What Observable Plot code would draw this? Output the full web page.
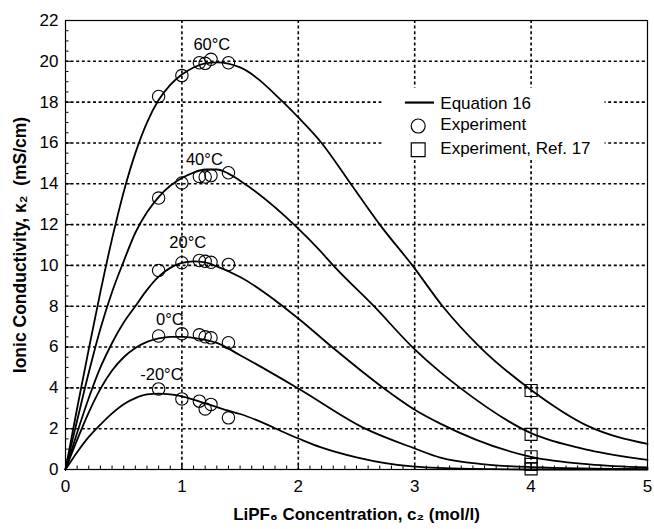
<!DOCTYPE html>
<html>
<head>
<meta charset="utf-8">
<script src="https://cdn.jsdelivr.net/npm/d3@7"></script>
<script src="https://cdn.jsdelivr.net/npm/@observablehq/plot@0.6"></script>
<style>
  body { margin: 0; background: #fff; }
  #chart svg { display: block; }
</style>
</head>
<body>
<div id="chart"></div>
<script>
// ---- Data ----
const temps = ["60°C", "40°C", "20°C", "0°C", "-20°C"];

// Equation 16 model curves: concentration (mol/l) and conductivity (mS/cm)
const curveC60 = [0, 0.1, 0.2, 0.3, 0.4, 0.5, 0.6, 0.7, 0.8, 0.9, 1.0, 1.1, 1.2, 1.3, 1.5, 1.87, 2.0, 2.2, 2.45, 2.7, 2.98, 3.24, 3.56, 4.0, 4.5, 5.0];
const curveK60 = [0, 3.0, 5.9, 8.7, 11.3, 13.6, 15.5, 17.0, 18.1, 18.85, 19.35, 19.7, 19.9, 19.95, 19.7, 18.0, 17.25, 16, 14, 12, 10, 8, 6, 3.9, 2.1, 1.25];

const curveC40 = [0, 0.1, 0.2, 0.3, 0.4, 0.5, 0.6, 0.7, 0.8, 0.9, 1.0, 1.1, 1.2, 1.3, 1.4, 1.5, 2.0, 2.19, 2.3, 2.65, 2.98, 3.22, 3.39, 4.0, 4.5, 5.0];
const curveK40 = [0, 2.4, 4.75, 6.9, 8.7, 10.2, 11.6, 12.6, 13.35, 13.9, 14.28, 14.55, 14.7, 14.7, 14.5, 14.15, 11.8, 10.7, 10, 8, 6, 4.77, 4, 1.78, 0.95, 0.47];

const curveC20 = [0, 0.1, 0.2, 0.3, 0.4, 0.5, 0.6, 0.7, 0.8, 0.9, 1.0, 1.1, 1.2, 1.3, 1.5, 2.0, 2.29, 2.73, 3.0, 3.22, 4.0, 4.5, 5.0];
const curveK20 = [0, 1.8, 3.5, 5.0, 6.2, 7.2, 8.0, 8.8, 9.45, 9.88, 10.12, 10.2, 10.15, 9.95, 9.43, 7.4, 6, 4, 2.93, 2.25, 0.62, 0.25, 0.1];

const curveC0 = [0, 0.1, 0.2, 0.3, 0.4, 0.5, 0.6, 0.7, 0.8, 0.9, 1.0, 1.1, 1.2, 1.3, 1.5, 2.0, 2.575, 3.0, 3.22, 3.6, 4.0, 5.0];
const curveK0 = [0, 1.45, 2.8, 3.95, 4.85, 5.5, 5.95, 6.25, 6.42, 6.5, 6.5, 6.45, 6.35, 6.2, 5.6, 3.97, 2, 1.03, 0.58, 0.25, 0.12, 0.02];

const curveCm20 = [0, 0.1, 0.2, 0.3, 0.4, 0.5, 0.6, 0.7, 0.8, 0.9, 1.0, 1.1, 1.2, 1.3, 1.4, 1.5, 2.0, 2.19, 2.5, 3.0, 3.5, 4.0, 5.0];
const curveKm20 = [0, 0.85, 1.6, 2.2, 2.75, 3.2, 3.5, 3.68, 3.72, 3.68, 3.58, 3.42, 3.24, 3.06, 2.88, 2.72, 1.52, 1.1, 0.6, 0.14, 0.03, 0.0, 0.0];

// Experiment (circles)
const expC = [0.8, 1.0, 1.15, 1.2, 1.25, 1.4];
const exp60 = [18.28, 19.3, 19.93, 19.9, 20.1, 19.93];
const exp40 = [13.3, 14.04, 14.36, 14.33, 14.4, 14.54];
const exp20 = [9.75, 10.13, 10.24, 10.2, 10.15, 10.05];
const exp0 = [6.54, 6.65, 6.6, 6.5, 6.45, 6.21];
const expm20 = [3.95, 3.46, 3.35, 2.97, 3.19, 2.53];

// Experiment, Ref. 17 (squares)
const refC = [4, 4, 4, 4, 4];
const refK = [3.87, 1.72, 0.62, 0.25, 0.03];

// Temperature annotation anchors (data coordinates)
const labelC = [1.257, 1.193, 1.05, 0.897, 0.824];
const labelK = [20.83, 15.2, 11.13, 7.35, 4.66];

// Axis ticks
const xTicks = [0, 1, 2, 3, 4, 5];
const yTicks = [0, 2, 4, 6, 8, 10, 12, 14, 16, 18, 20, 22];
const xGrid = [1, 2, 3, 4];
const yGrid = [2, 4, 6, 8, 10, 12, 14, 16, 18, 20];
const xMinor = d3.range(0, 50).map(i => i / 10);
const yMinor = d3.range(0, 44).map(i => i / 2);

const legendLabels = ["Equation 16", "Experiment", "Experiment, Ref. 17"];

// ---- Build tables ----
const curveSets = [
  [temps[0], curveC60, curveK60],
  [temps[1], curveC40, curveK40],
  [temps[2], curveC20, curveK20],
  [temps[3], curveC0, curveK0],
  [temps[4], curveCm20, curveKm20]
];
const curves = curveSets.flatMap(([t, cs, ks]) => cs.map((c, i) => ({t, c, k: ks[i]})));
const expSets = [exp60, exp40, exp20, exp0, expm20];
const experiments = expSets.flatMap((ks, j) => ks.map((k, i) => ({t: temps[j], c: expC[i], k})));
const refs = refC.map((c, i) => ({c, k: refK[i]}));
const labels = temps.map((t, i) => ({t, c: labelC[i], k: labelK[i]}));

const W = 654, H = 529;
const mL = 65, mR = 7, mT = 20, mB = 60;
const pw = W - mL - mR, ph = H - mT - mB;
const font = "'Liberation Sans', Arial, Helvetica, sans-serif";
const grid = {stroke: "#000", strokeWidth: 1.6, strokeDasharray: "3,2.6"};

// legend geometry in data coordinates
const lgX1 = 2.72, lgX2 = 4.635, lgY1 = 15.2, lgY2 = 18.68;
const lgTextC = 3.22, lgSymC = 3.03;
const lgRows = [17.98, 16.83, 15.67];

const chart = Plot.plot({
  width: W,
  height: H,
  marginLeft: mL,
  marginRight: mR,
  marginTop: mT,
  marginBottom: mB,
  style: {fontFamily: font, background: "#fff", color: "#000"},
  x: {domain: [0, 5], axis: null},
  y: {domain: [0, 22], axis: null},
  marks: [
    Plot.ruleX(xGrid, {x: d => d, ...grid}),
    Plot.ruleY(yGrid, {y: d => d, ...grid}),
    // legend background
    Plot.rect([0], {x1: () => lgX1, x2: () => lgX2, y1: () => lgY1, y2: () => lgY2, fill: "#fff"}),
    // ticks (inward)
    Plot.tickY(yMinor, {y: d => d, insetRight: pw - 3.5, stroke: "#000"}),
    Plot.tickY(yTicks, {y: d => d, insetRight: pw - 6.5, stroke: "#000"}),
    Plot.tickX(xMinor, {x: d => d, insetTop: ph - 3.5, stroke: "#000"}),
    Plot.tickX(xTicks, {x: d => d, insetTop: ph - 6, stroke: "#000"}),
    Plot.frame({stroke: "#000", strokeWidth: 1.2}),
    Plot.axisX(xTicks, {tickSize: 0, tickPadding: 10, fontSize: 17, label: null, tickFormat: d => String(d)}),
    Plot.axisY(yTicks, {tickSize: 0, tickPadding: 7, fontSize: 17, label: null, tickFormat: d => String(d)}),
    // model curves
    Plot.line(curves, {x: "c", y: "k", z: "t", curve: "monotone-x", stroke: "#000", strokeWidth: 1.8}),
    // experiments
    Plot.dot(experiments, {x: "c", y: "k", r: 6.2, stroke: "#000", strokeWidth: 1.1, fill: "none"}),
    Plot.dot(refs, {x: "c", y: "k", symbol: "square", r: 6.8, stroke: "#000", strokeWidth: 1.1, fill: "none"}),
    // temperature labels
    Plot.text(labels, {x: "c", y: "k", text: "t", fontSize: 16.5, fill: "#000"}),
    // legend
    Plot.ruleY([lgRows[0]], {x1: 2.92, x2: 3.17, stroke: "#000", strokeWidth: 2.2}),
    Plot.dot([lgRows[1]], {x: () => lgSymC, y: d => d, r: 7, stroke: "#000", strokeWidth: 1.2, fill: "none"}),
    Plot.dot([lgRows[2]], {x: () => lgSymC, y: d => d, symbol: "square", r: 7.8, stroke: "#000", strokeWidth: 1.2, fill: "none"}),
    Plot.text(legendLabels, {x: () => lgTextC, y: (d, i) => lgRows[i] + (i === 0 ? -0.05 : 0.05), text: d => d, textAnchor: "start", fontSize: 17, fill: "#000"}),
    // axis titles
    Plot.text(["LiPF₆ Concentration, c₂ (mol/l)"], {frameAnchor: "bottom", dy: 50, text: d => d, fontSize: 17, fontWeight: "bold", fill: "#000"}),
    Plot.text(["Ionic Conductivity, κ₂  (mS/cm)"], {frameAnchor: "left", dx: -45, rotate: -90, textAnchor: "middle", text: d => d, fontSize: 17.5, fontWeight: "bold", fill: "#000"})
  ]
});

document.getElementById("chart").appendChild(chart);
</script>
</body>
</html>
